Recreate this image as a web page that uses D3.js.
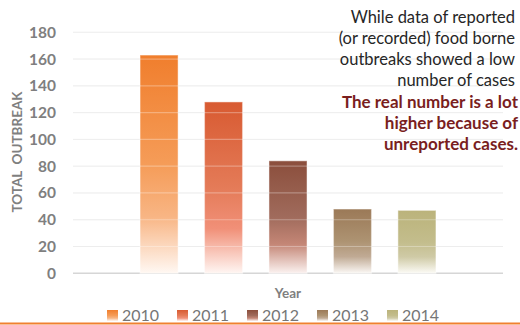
<!DOCTYPE html>
<html>
<head>
<meta charset="utf-8">
<script src="https://cdn.jsdelivr.net/npm/d3@7"></script>
<style>
  body { margin: 0; background: #fff; }
  svg { display: block; font-family: Lato, "Open Sans", sans-serif; }
</style>
</head>
<body>
<script>
// data
var years = ["2010", "2011", "2012", "2013", "2014"];
var outbreaks = [163, 128, 84, 48, 47];
var yTicks = [0, 20, 40, 60, 80, 100, 120, 140, 160, 180];
var noteLines = ["While data of reported", "(or recorded) food borne", "outbreaks showed a low", "number of cases"];
var noteBold = ["The real number is a lot", "higher because of", "unreported cases."];

// gradient colours per bar: top, middle, lower, bottom
var barColors = [
  ["#F07E2D", "#F59C58", "#F8B584", "#FFF8F3"],
  ["#D85A31", "#E47B58", "#F19078", "#FFF6F3"],
  ["#8B4E3C", "#A06B5C", "#C48676", "#FBF2F0"],
  ["#9B7957", "#AD9372", "#C0AA94", "#FBF8F5"],
  ["#BBB37B", "#C3BD8C", "#CFCAA6", "#FCFBF6"]
];

var width = 520, height = 325;

var svg = d3.select("body")
    .append("svg")
    .attr("width", width)
    .attr("height", height);

var defs = svg.append("defs");
years.forEach(function (yr, i) {
    var g = defs.append("linearGradient")
        .attr("id", "grad" + yr)
        .attr("x1", 0).attr("y1", 0).attr("x2", 0).attr("y2", 1);
    [0, 0.5, 0.74, 1].forEach(function (off, j) {
        g.append("stop").attr("offset", off).attr("stop-color", barColors[i][j]);
    });
});

var y = d3.scaleLinear()
    .domain([0, 180])
    .range([273.3, 32.3]);

var x = d3.scaleBand()
    .domain(years)
    .range([73, 503])
    .paddingInner(0.41)
    .paddingOuter(1.04);

// gridlines under the bars
svg.append("g")
    .selectAll("line")
    .data(yTicks)
    .enter()
    .append("line")
    .attr("x1", 73)
    .attr("x2", 503)
    .attr("y1", function (d) { return y(d); })
    .attr("y2", function (d) { return y(d); })
    .attr("stroke", function (d) { return d === 0 ? "#d6d6d6" : "#e6e6e6"; })
    .attr("stroke-width", function (d) { return d === 0 ? 1.5 : 1; });

// bars
svg.append("g")
    .selectAll("rect")
    .data(outbreaks)
    .enter()
    .append("rect")
    .attr("x", function (d, i) { return x(years[i]); })
    .attr("y", function (d) { return y(d); })
    .attr("width", x.bandwidth())
    .attr("height", function (d) { return y(0) - y(d); })
    .attr("fill", function (d, i) { return "url(#grad" + years[i] + ")"; })
    .attr("stroke", "#fff")
    .attr("stroke-opacity", 0.4)
    .attr("stroke-width", 1.2);

// light gridlines drawn across the bars
svg.append("g")
    .selectAll("line")
    .data(yTicks.filter(function (d) { return d > 0; }))
    .enter()
    .append("line")
    .attr("x1", 73)
    .attr("x2", 503)
    .attr("y1", function (d) { return y(d); })
    .attr("y2", function (d) { return y(d); })
    .attr("stroke", "#fff")
    .attr("stroke-opacity", 0.3)
    .attr("stroke-width", 1.2);

// y tick labels
svg.append("g")
    .selectAll("text")
    .data(yTicks)
    .enter()
    .append("text")
    .attr("x", 56)
    .attr("y", function (d) { return y(d) + 5.5; })
    .attr("text-anchor", "end")
    .attr("font-size", 15.5)
    .attr("font-weight", "bold")
    .attr("fill", "#7f7f7f")
    .text(function (d) { return d; });

// axis titles
svg.append("text")
    .attr("transform", "translate(22,152) rotate(-90)")
    .attr("text-anchor", "middle")
    .attr("font-size", 13.5)
    .attr("font-weight", "bold")
    .attr("fill", "#7f7f7f")
    .attr("xml:space", "preserve")
    .text("TOTAL  OUTBREAK");

svg.append("text")
    .attr("x", 288)
    .attr("y", 298)
    .attr("text-anchor", "middle")
    .attr("font-size", 13.5)
    .attr("font-weight", "bold")
    .attr("fill", "#7f7f7f")
    .text("Year");

// legend
var legend = svg.append("g")
    .selectAll("g")
    .data(years)
    .enter()
    .append("g")
    .attr("transform", function (d, i) { return "translate(" + (107 + i * 70) + ",0)"; });

legend.append("rect")
    .attr("y", 310)
    .attr("width", 11)
    .attr("height", 11)
    .attr("fill", function (d) { return "url(#grad" + d + ")"; });

legend.append("text")
    .attr("x", 15)
    .attr("y", 321)
    .attr("font-size", 16)
    .attr("fill", "#767676")
    .text(function (d) { return d; });

// orange rule at the bottom
svg.append("line")
    .attr("x1", 0)
    .attr("x2", width)
    .attr("y1", 323.5)
    .attr("y2", 323.5)
    .attr("stroke", "#F08030")
    .attr("stroke-width", 2);

// note on the right
svg.append("g")
    .selectAll("text")
    .data(noteLines)
    .enter()
    .append("text")
    .attr("x", 515)
    .attr("y", function (d, i) { return 22.5 + i * 21; })
    .attr("text-anchor", "end")
    .attr("font-size", 16.5)
    .attr("fill", "#262626")
    .text(function (d) { return d; });

svg.append("g")
    .selectAll("text")
    .data(noteBold)
    .enter()
    .append("text")
    .attr("x", 518)
    .attr("y", function (d, i) { return 107.5 + i * 21; })
    .attr("text-anchor", "end")
    .attr("font-size", 17)
    .attr("font-weight", "bold")
    .attr("fill", "#7A1E1E")
    .text(function (d) { return d; });
</script>
</body>
</html>
